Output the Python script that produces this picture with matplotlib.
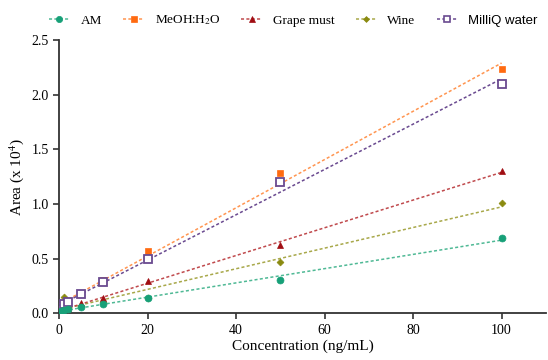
import numpy as np
import matplotlib
matplotlib.use("Agg")
import matplotlib.pyplot as plt

plt.rcParams['font.family'] = ['Liberation Serif', 'DejaVu Serif']
plt.rcParams['mathtext.fontset'] = 'stix'

conc = [0.5, 1, 2, 5, 10, 20, 50, 100]

am     = [0.02, 0.03, 0.04, 0.06, 0.08, 0.143, 0.30, 0.69]
meoh   = [0.05, 0.09, 0.11, 0.18, 0.305, 0.565, 1.28, 2.234]
grape  = [0.02, 0.04, 0.05, 0.09, 0.137, 0.296, 0.625, 1.30]
wine   = [0.03, 0.15, 0.05, 0.07, 0.10, 0.14, 0.467, 1.007]
milliq = [0.04, 0.08, 0.10, 0.18, 0.29, 0.50, 1.196, 2.097]

labels = ['AM', 'MeOH:H$_2$O', 'Grape must', 'Wine', 'MilliQ water']
series = [am, meoh, grape, wine, milliq]
# (marker colour, line colour, marker, size, filled)
styles = [
    ('#17a078', '#4fb995', 'o', 5, True),
    ('#ff6a10', '#ff9550', 's', 5, True),
    ('#a00d12', '#c04a4d', '^', 5, True),
    ('#8a8a10', '#a8a84a', 'D', 3.5, True),
    ('#6a4a90', '#6a4a90', 's', 5.5, False),
]
zorders = [4, 3, 3, 2, 3]

fig = plt.figure(figsize=(5.48, 3.6), dpi=100)
ax = fig.add_axes([0.108, 0.13, 0.888, 0.759])

x = np.array(conc)
xfit = np.array([0, 100])
handles = []
for y, lab, (mc, lc, mk, ms, filled), zo in zip(series, labels, styles, zorders):
    y = np.array(y)
    k, b = np.polyfit(x, y, 1)
    ax.plot(xfit, k * xfit + b, ls=(0, (2, 1.5)), color=lc, lw=1.1, zorder=zo)
    ax.plot(x, y, ls='none', marker=mk, ms=ms, color=mc,
            mfc=mc if filled else 'white', mew=1.3 if not filled else 0.5, zorder=zo + 1)
    h, = ax.plot([], [], ls=(0, (2, 1.5)), color=lc, lw=1.1, marker=mk, ms=ms - 0.5,
                 mfc=mc if filled else 'white', mec=mc, mew=1.2 if not filled else 0.5)
    handles.append(h)

ax.set_xlim(0, 110)
ax.set_ylim(0, 2.5)
ax.set_xticks([0, 20, 40, 60, 80, 100])
ax.set_yticks([0, 0.5, 1.0, 1.5, 2.0, 2.5])
ax.yaxis.set_major_formatter(matplotlib.ticker.FormatStrFormatter('%.1f'))
for s in ['top', 'right']:
    ax.spines[s].set_visible(False)
for s in ['left', 'bottom']:
    ax.spines[s].set_linewidth(1.3)
    ax.spines[s].set_color('#333333')
ax.tick_params(width=1.2, length=4, color='#333333', labelsize=10)
ax.set_xlabel('Concentration (ng/mL)', fontsize=11, labelpad=2)
ax.set_ylabel('Area (x 10$^4$)', fontsize=11, labelpad=4)

leg = fig.legend(handles, labels, loc='upper center', bbox_to_anchor=(0.535, 0.995),
                 ncol=5, frameon=False, fontsize=9.5, handlelength=1.6,
                 columnspacing=1.6, handletextpad=0.8)
leg.get_texts()[4].set_family('Liberation Sans')

fig.savefig('out.png', dpi=100)
